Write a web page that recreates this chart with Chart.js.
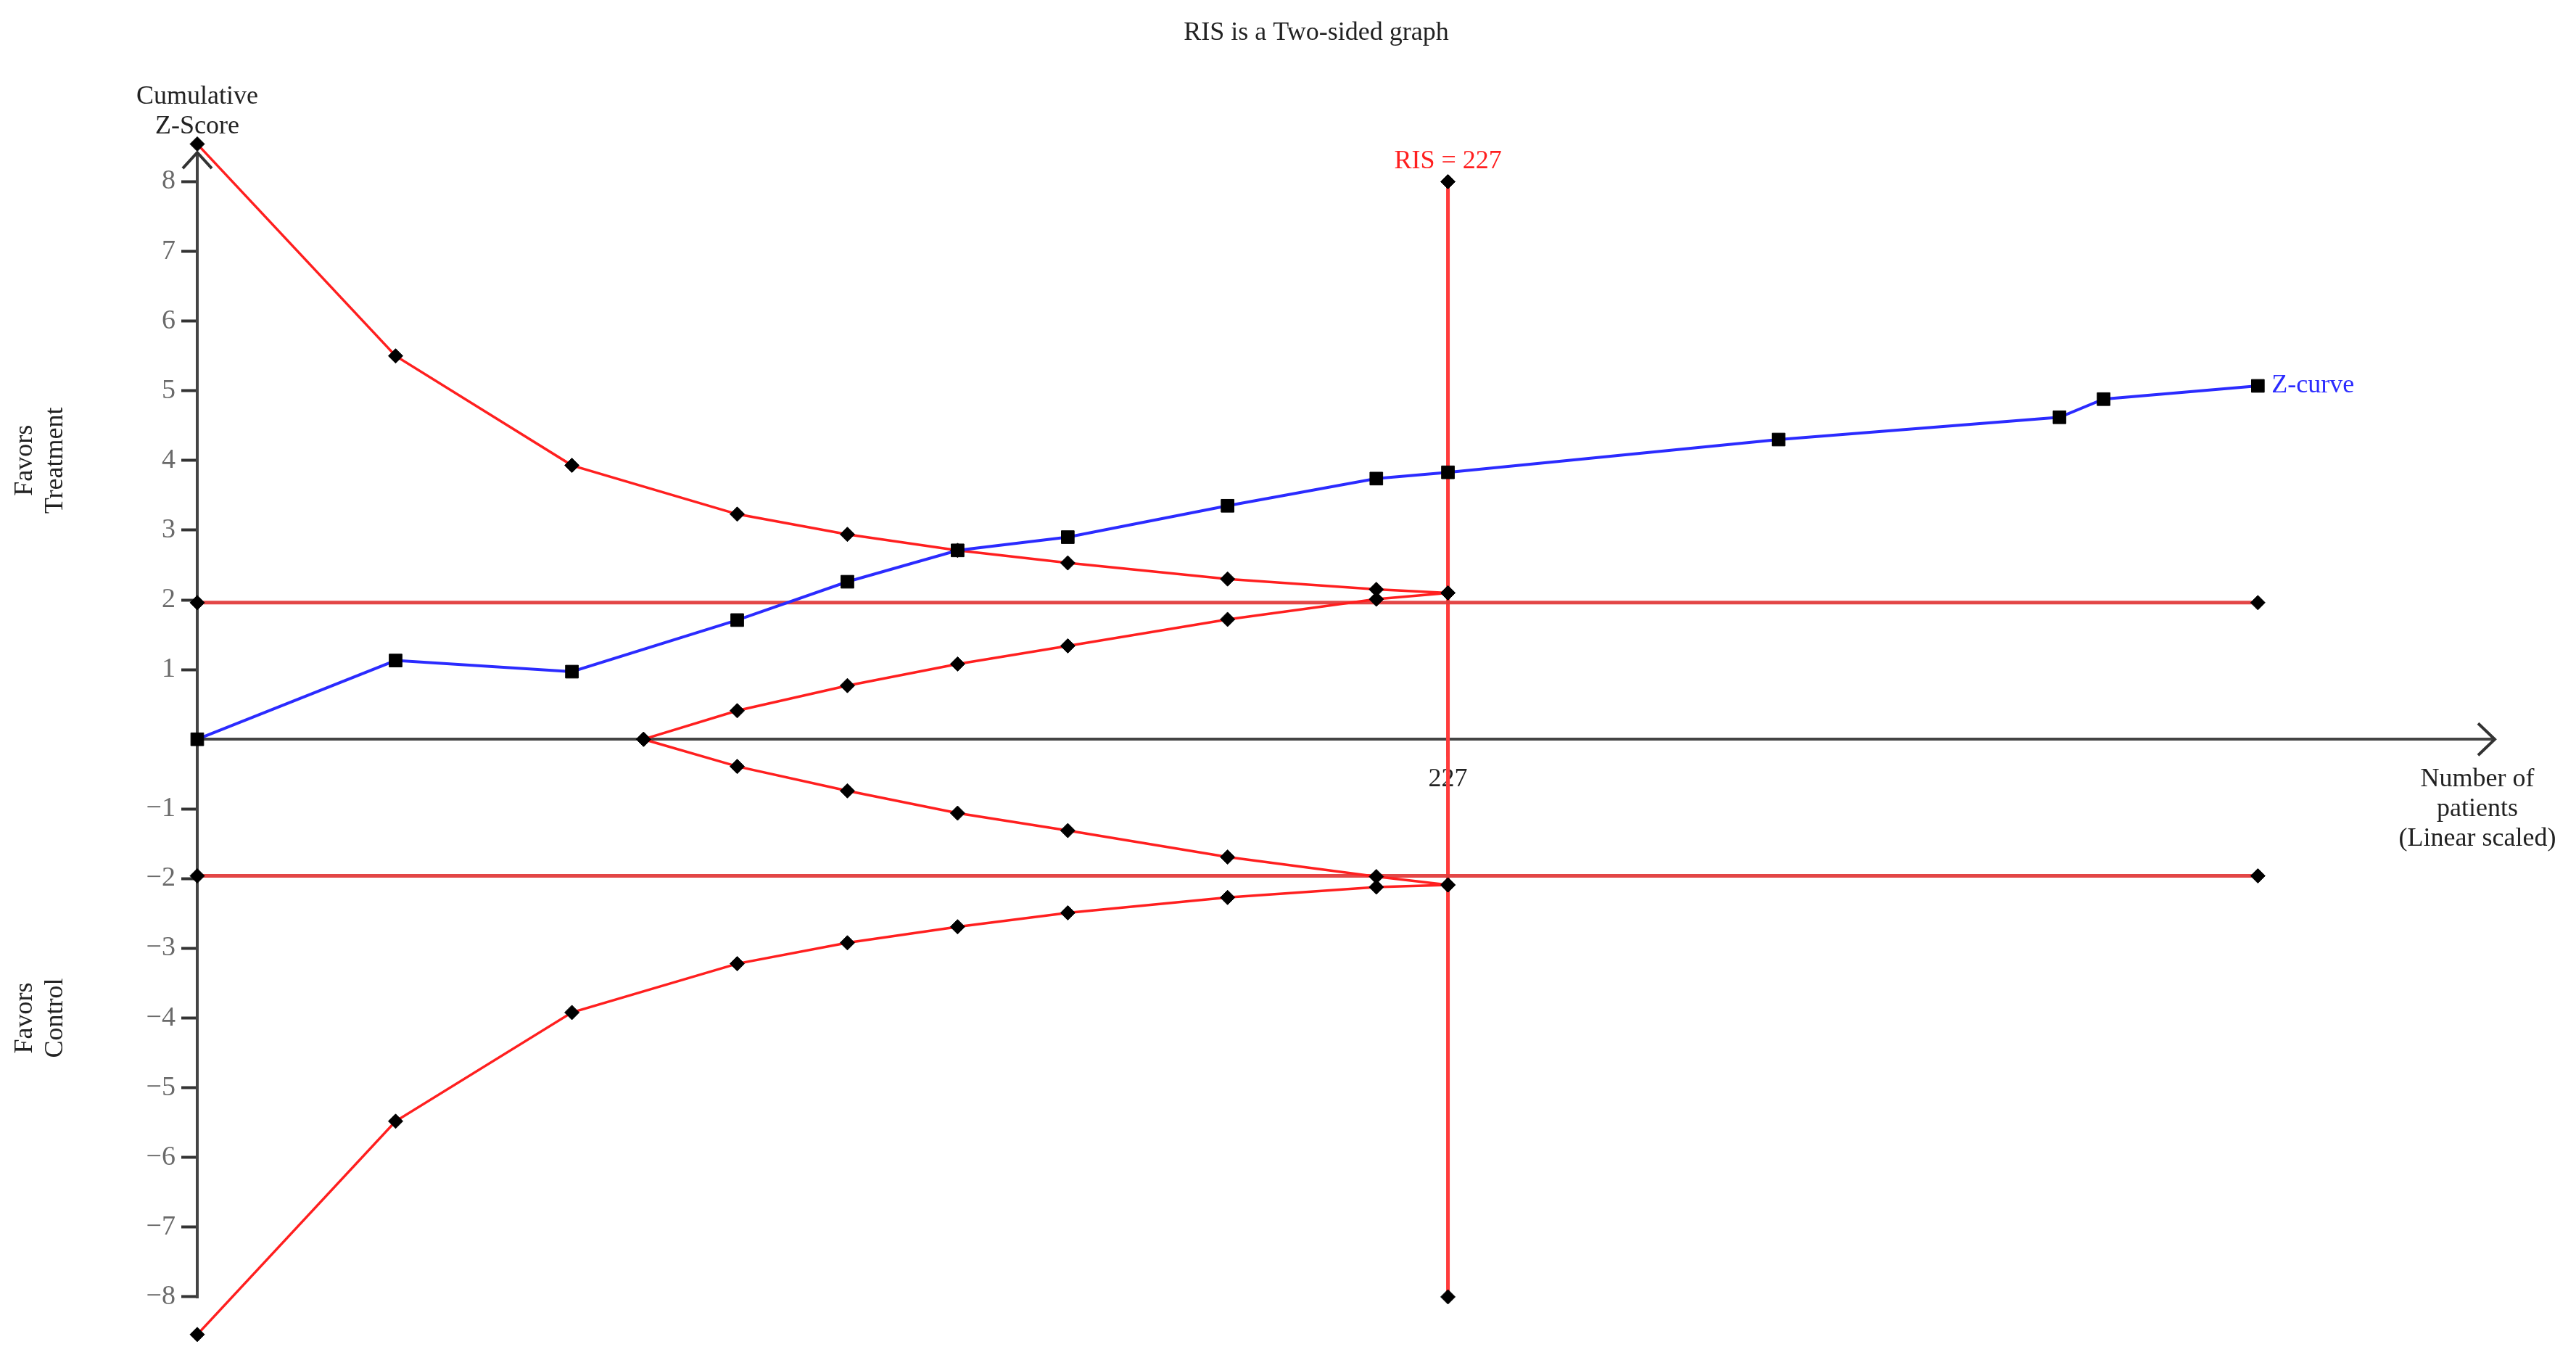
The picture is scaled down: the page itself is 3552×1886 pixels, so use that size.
<!DOCTYPE html>
<html>
<head>
<meta charset="utf-8">
<title>RIS is a Two-sided graph</title>
<script src="https://cdn.jsdelivr.net/npm/chart.js@4.4.0/dist/chart.umd.min.js"></script>
<style>
  html, body { margin: 0; padding: 0; background: #fff; }
  canvas { display: block; }
</style>
</head>
<body>
<canvas id="tsaChart" width="3552" height="1886"></canvas>
<script>
// cumulative number of patients where each trial is added
const patients = [0, 36, 68, 98, 118, 138, 158, 187, 214, 227, 287, 338, 346, 374];
const zCurve = [0, 1.13, 0.97, 1.71, 2.26, 2.71, 2.90, 3.35, 3.74, 3.83, 4.30, 4.62, 4.88, 5.07];

// trial sequential monitoring boundaries (up to the RIS)
const boundaryPatients = [0, 36, 68, 98, 118, 138, 158, 187, 214, 227];
const upperBoundary = [8.54, 5.50, 3.93, 3.23, 2.94, 2.71, 2.53, 2.30, 2.15, 2.10];
const lowerBoundary = [-8.54, -5.48, -3.92, -3.22, -2.92, -2.69, -2.49, -2.27, -2.12, -2.09];

// futility (inner wedge) boundaries
const futilityPatients = [81, 98, 118, 138, 158, 187, 214, 227];
const upperFutility = [0, 0.41, 0.77, 1.08, 1.34, 1.72, 2.01, 2.10];
const lowerFutility = [0, -0.39, -0.74, -1.06, -1.31, -1.69, -1.97, -2.09];

// conventional boundaries and required information size
const conventionalZ = 1.96;
const conventionalRange = [0, 374];
const risValue = 227;
const risRange = [-8, 8];

const yTicks = [-8, -7, -6, -5, -4, -3, -2, -1, 1, 2, 3, 4, 5, 6, 7, 8];
const xTicks = [227];

// the drawn y axis runs from the -8 tick up to the arrow tip
const yAxisEnds = [-8, 8.42];

const serif = '"Liberation Serif", "Times New Roman", serif';
const red = '#ff1f1f';
const softRed = 'rgba(225, 60, 60, 0.95)';
const blue = '#2b2bff';

const pairs = (xs, ys) => xs.map((x, i) => ({ x: x, y: ys[i] }));

const lineSet = (label, data, color, width, style, radius) => ({
    label: label,
    data: data,
    showLine: true,
    borderColor: color,
    borderWidth: width,
    pointStyle: style,
    pointRadius: radius,
    pointBackgroundColor: '#000',
    pointBorderColor: '#000',
    pointBorderWidth: 1,
    clip: false
});

const annotations = {
    id: 'annotations',
    beforeDatasetsDraw(chart) {
        const { ctx, scales: { x, y } } = chart;
        const x0 = x.getPixelForValue(0);
        const top = y.getPixelForValue(yAxisEnds[1]);
        ctx.save();
        ctx.strokeStyle = '#444';
        ctx.lineWidth = 4;
        ctx.beginPath();
        ctx.moveTo(x0, y.getPixelForValue(yAxisEnds[0]) + 2);
        ctx.lineTo(x0, top);
        ctx.stroke();
        ctx.restore();
    },
    afterDraw(chart) {
        const { ctx, chartArea, scales: { x, y } } = chart;
        const x0 = x.getPixelForValue(0);
        const y0 = y.getPixelForValue(0);
        const top = y.getPixelForValue(yAxisEnds[1]);
        ctx.save();

        // axis arrows
        ctx.strokeStyle = '#333';
        ctx.lineWidth = 4;
        ctx.beginPath();
        ctx.moveTo(x0 - 20, top + 22);
        ctx.lineTo(x0, top);
        ctx.lineTo(x0 + 20, top + 22);
        ctx.moveTo(chartArea.right - 23, y0 - 22);
        ctx.lineTo(chartArea.right, y0);
        ctx.lineTo(chartArea.right - 23, y0 + 22);
        ctx.stroke();

        ctx.font = '36px ' + serif;
        ctx.textAlign = 'center';
        ctx.textBaseline = 'middle';
        ctx.fillStyle = '#222';
        ctx.fillText('Cumulative', x0, top - 77);
        ctx.fillText('Z-Score', x0, top - 36);

        ctx.fillText('Number of', chartArea.right - 24, y0 + 55);
        ctx.fillText('patients', chartArea.right - 24, y0 + 96);
        ctx.fillText('(Linear scaled)', chartArea.right - 24, y0 + 137);

        // side labels
        const side = (lines, value) => {
            ctx.save();
            ctx.translate(0, y.getPixelForValue(value));
            ctx.rotate(-Math.PI / 2);
            ctx.fillText(lines[0], 0, 35);
            ctx.fillText(lines[1], 0, 77);
            ctx.restore();
        };
        side(['Favors', 'Treatment'], 4);
        side(['Favors', 'Control'], -4);

        ctx.fillStyle = red;
        ctx.fillText('RIS = ' + risValue, x.getPixelForValue(risValue), y.getPixelForValue(risRange[1]) - 28);

        const last = patients.length - 1;
        ctx.fillStyle = blue;
        ctx.textAlign = 'left';
        ctx.fillText('Z-curve', x.getPixelForValue(patients[last]) + 19, y.getPixelForValue(zCurve[last]));
        ctx.restore();
    }
};

const ctx = document.getElementById('tsaChart').getContext('2d');

const chart = new Chart(ctx, {
    type: 'scatter',
    data: {
        datasets: [
            lineSet('Z-curve', pairs(patients, zCurve), blue, 4, 'rect', 12.5),
            lineSet('Upper boundary', pairs(boundaryPatients, upperBoundary), red, 3.5, 'rectRot', 10),
            lineSet('Lower boundary', pairs(boundaryPatients, lowerBoundary), red, 3.5, 'rectRot', 10),
            lineSet('Upper futility', pairs(futilityPatients, upperFutility), red, 3.5, 'rectRot', 10),
            lineSet('Lower futility', pairs(futilityPatients, lowerFutility), red, 3.5, 'rectRot', 10),
            lineSet('Z = 1.96', pairs(conventionalRange, [conventionalZ, conventionalZ]), softRed, 5, 'rectRot', 10),
            lineSet('Z = -1.96', pairs(conventionalRange, [-conventionalZ, -conventionalZ]), softRed, 5, 'rectRot', 10),
            lineSet('RIS', pairs([risValue, risValue], risRange), '#ff3b3b', 5, 'rectRot', 10)
        ]
    },
    options: {
        responsive: false,
        animation: false,
        layout: {
            padding: { left: 190, right: 112, top: 0, bottom: 17 }
        },
        plugins: {
            legend: { display: false },
            tooltip: { enabled: false },
            title: {
                display: true,
                text: 'RIS is a Two-sided graph',
                color: '#222',
                font: { family: serif, size: 36, weight: 'normal' },
                padding: { top: 24, bottom: 116 }
            }
        },
        scales: {
            x: {
                type: 'linear',
                min: 0,
                max: 417,
                position: { y: 0 },
                afterBuildTicks: (scale) => { scale.ticks = xTicks.map(v => ({ value: v })); },
                ticks: {
                    color: '#222',
                    font: { family: serif, size: 36 },
                    padding: 12,
                    maxRotation: 0,
                    autoSkip: false
                },
                grid: {
                    drawOnChartArea: false,
                    tickLength: 22,
                    tickWidth: 4,
                    tickColor: '#222'
                },
                border: { display: true, color: '#444', width: 4 }
            },
            y: {
                type: 'linear',
                min: -8.7,
                max: 8.7,
                position: 'left',
                afterBuildTicks: (scale) => { scale.ticks = yTicks.map(v => ({ value: v })); },
                afterFit: (scale) => { scale.width = 82; },
                ticks: {
                    color: '#6a6a6a',
                    font: { family: serif, size: 38 },
                    padding: 8,
                    callback: (v) => (v < 0 ? '\u2212' + Math.abs(v) : String(v))
                },
                grid: {
                    drawOnChartArea: false,
                    tickLength: 22,
                    tickWidth: 4,
                    tickColor: '#333'
                },
                border: { display: false }
            }
        }
    },
    plugins: [annotations]
});
</script>
</body>
</html>
